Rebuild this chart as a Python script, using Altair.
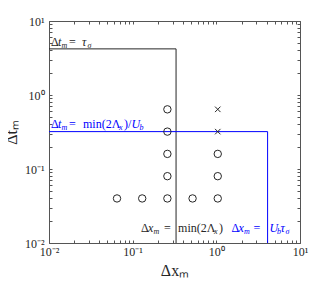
import altair as alt
import pandas as pd

# ---- data ----
circle_x = [0.065, 0.13, 0.26, 0.52, 1.04, 0.26, 0.26, 0.26, 0.26, 1.04, 1.04]
circle_y = [0.04, 0.04, 0.04, 0.04, 0.04, 0.08, 0.16, 0.32, 0.64, 0.08, 0.16]
cross_x = [1.04, 1.04]
cross_y = [0.32, 0.64]
black_x = [0.01, 0.33, 0.33]
black_y = [4.2, 4.2, 0.01]
blue_x = [0.01, 4.1, 4.1]
blue_y = [0.32, 0.32, 0.01]
decades = [0.01, 0.1, 1.0, 10.0]
decade_labels = ["10⁻²", "10⁻¹", "10⁰", "10¹"]
minor = [m * 10.0 ** k for k in (-2, -1, 0) for m in range(2, 10)]

FONT = "Liberation Serif"
BLUE = "#0000ff"
DARK = "#262626"

ticks = decades + minor
label_expr = " : ".join(
    f"abs(datum.value - {v}) < {v * 1e-6} ? '{t}'" for v, t in zip(decades, decade_labels)
) + " : ''"

scale = alt.Scale(type="log", domain=[0.01, 10], nice=False)

common = dict(values=ticks, tickSize=3, offset=-3, domain=False, grid=False,
              tickColor="#555", labelExpr=label_expr, labelFont=FONT,
              labelFontSize=12, labelColor=DARK, labelOverlap=False,
              labelFlush=False, titleFont=FONT, titleFontSize=16,
              titleFontWeight="normal", titleColor=DARK)

x_bottom = alt.Axis(orient="bottom", title="Δxₘ", labelPadding=3, titlePadding=5, **common)
y_left = alt.Axis(orient="left", title="Δtₘ", labelPadding=5, titlePadding=5, **common)
common_nolab = dict(common)
common_nolab.update(labels=False)
x_top = alt.Axis(orient="top", title=None, **common_nolab)
y_right = alt.Axis(orient="right", title=None, **common_nolab)

circles = pd.DataFrame({"x": circle_x, "y": circle_y})
crosses = pd.DataFrame({"x": cross_x, "y": cross_y})
black = pd.DataFrame({"x": black_x, "y": black_y, "o": range(len(black_x))})
blue = pd.DataFrame({"x": blue_x, "y": blue_y, "o": range(len(blue_x))})

circ = alt.Chart(circles).mark_point(shape="circle", size=55, filled=False,
                                      color=DARK, strokeWidth=1, opacity=1).encode(
    x=alt.X("x:Q", scale=scale, axis=x_bottom),
    y=alt.Y("y:Q", scale=scale, axis=y_left),
)
crs = alt.Chart(crosses).mark_point(shape="M-1,-1L1,1M-1,1L1,-1", size=30, filled=False,
                                     color=DARK, strokeWidth=1, opacity=1).encode(
    x=alt.X("x:Q", scale=scale, axis=x_top),
    y=alt.Y("y:Q", scale=scale, axis=y_right),
)


def path(df, color):
    return alt.Chart(df).mark_line(color=color, strokeWidth=1, clip=True).encode(
        x=alt.X("x:Q", scale=scale, axis=None),
        y=alt.Y("y:Q", scale=scale, axis=None),
        order="o:O",
    )


def label(x, y, segments, color, base_dy):
    """segments: (text, dx, style, size, extra_dy)"""
    out = []
    for text, dx, style, size, edy in segments:
        df = pd.DataFrame({"x": [x], "y": [y], "t": [text]})
        out.append(alt.Chart(df).mark_text(
            align="left", baseline="alphabetic", dx=dx, dy=base_dy + edy,
            font=FONT, fontSize=size, color=color, fontStyle=style).encode(
            x=alt.X("x:Q", scale=scale, axis=None),
            y=alt.Y("y:Q", scale=scale, axis=None),
            text="t:N",
        ))
    return out


N, I = "normal", "italic"
S = 8  # subscript size
labels = []
# Δt_m = τ_σ (black, top)
labels += label(black_x[0], black_y[0], [
    ("Δ", 2, N, 12, 0), ("t", 9, I, 12, 0), ("m", 12.5, I, S, 2), ("=", 20, N, 12, 0),
    ("τ", 33, I, 12, 0), ("σ", 38.5, I, S, 2)], DARK, -3)
# Δt_m = min(2Λ_x)/U_b (blue, middle)
labels += label(blue_x[0], blue_y[0], [
    ("Δ", 2, N, 12, 0), ("t", 9, I, 12, 0), ("m", 12.5, I, S, 2), ("=", 20, N, 12, 0),
    ("min(2Λ", 34, N, 12, 0), ("x", 70, I, S, 2), (")/", 75, N, 12, 0),
    ("U", 82.5, I, 12, 0), ("b", 90.5, I, S, 2)], BLUE, -4)
# Δx_m = min(2Λ_x) (black, bottom)
labels += label(black_x[2], black_y[2], [
    ("Δ", -35, N, 12, 0), ("x", -28, I, 12, 0), ("m", -22.5, I, S, 2), ("=", -12, N, 12, 0),
    ("min(2Λ", 2, N, 12, 0), ("x", 38, I, S, 2), (")", 43, N, 12, 0)], DARK, -11)
# Δx_m = U_b τ_σ (blue, bottom)
labels += label(blue_x[2], blue_y[2], [
    ("Δ", -36, N, 12, 0), ("x", -29, I, 12, 0), ("m", -23.5, I, S, 2), ("=", -14, N, 12, 0),
    ("U", 2, I, 12, 0), ("b", 9.5, I, S, 2), ("τ", 13, I, 12, 0),
    ("σ", 18, I, S, 2)], BLUE, -11)

chart = alt.layer(
    path(black, DARK), path(blue, BLUE), circ, crs, *labels
).resolve_axis(x="independent", y="independent").properties(
    width=251, height=222,
    autosize=alt.AutoSizeParams(type="none"),
    padding={"left": 41, "top": 13, "right": 16, "bottom": 35},
).configure_view(stroke="#555", strokeWidth=1)

chart.save("out.html", embed_options={"renderer": "svg", "actions": False})
